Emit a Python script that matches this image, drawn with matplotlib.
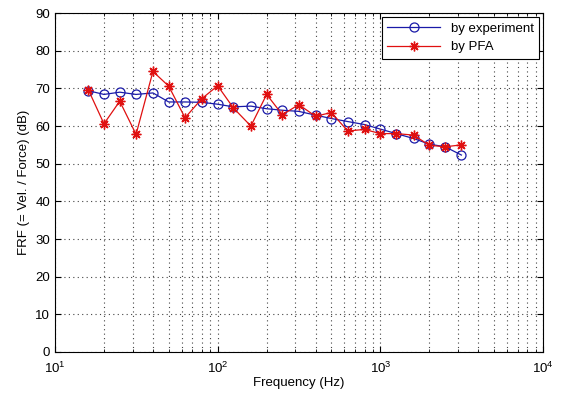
import matplotlib
matplotlib.use('Agg')
import matplotlib.pyplot as plt
from matplotlib.ticker import LogLocator, MultipleLocator

plt.rcParams['font.family'] = ['Liberation Sans', 'DejaVu Sans']

# 1/3 octave centre frequencies (Hz)
freq = [16, 20, 25, 31.5, 40, 50, 63, 80, 100, 125, 160, 200, 250, 315,
        400, 500, 630, 800, 1000, 1250, 1600, 2000, 2500, 3150]

# FRF levels (dB)
frf_experiment = [69.4, 68.4, 69.0, 68.4, 68.8, 66.4, 66.4, 66.3, 65.8, 65.1,
                  65.3, 64.6, 64.2, 63.9, 62.9, 62.0, 61.2, 60.4, 59.2, 58.0,
                  56.7, 55.2, 54.5, 52.3]
frf_pfa = [69.7, 60.6, 66.6, 57.8, 74.5, 70.6, 62.2, 67.3, 70.7, 64.8,
           60.0, 68.4, 63.0, 65.7, 62.6, 63.6, 58.7, 59.1, 58.0, 58.0,
           57.6, 54.9, 54.5, 55.0]

fig = plt.figure(figsize=(5.63, 3.97), dpi=100)
ax = fig.add_axes([0.0977, 0.1134, 0.8668, 0.8536])

ax.semilogx(freq, frf_experiment, color='#1a1aa8', marker='o', markersize=6.5,
            markerfacecolor='none', markeredgewidth=0.9, linewidth=0.9,
            label='by experiment')
# MATLAB-style asterisk marker
ax.semilogx(freq, frf_pfa, color='#e01010', marker=(8, 2, 0), markersize=7,
            markeredgewidth=1.0, linewidth=0.9, label='by PFA')

ax.set_xlim(10, 1e4)
ax.set_ylim(0, 90)
ax.yaxis.set_major_locator(MultipleLocator(10))
ax.xaxis.set_major_locator(LogLocator(base=10))
ax.xaxis.set_minor_locator(LogLocator(base=10, subs=range(2, 10)))

grid_style = dict(color='#444444', linestyle=(0, (1, 3)), linewidth=0.8)
ax.grid(True, which='both', axis='x', **grid_style)
ax.grid(True, which='major', axis='y', **grid_style)

ax.tick_params(which='both', direction='in', top=True, right=True, labelsize=9.5)
ax.tick_params(which='major', length=4)
ax.tick_params(which='minor', length=2)
ax.tick_params(axis='x', pad=6)

ax.set_xlabel('Frequency (Hz)', fontsize=9.5, labelpad=1)
ax.set_ylabel('FRF (= Vel. / Force) (dB)', fontsize=9.5)

leg = ax.legend(loc='upper right', fontsize=9.5, fancybox=False, framealpha=1,
                edgecolor='black', borderaxespad=0.3, handlelength=4)
leg.get_frame().set_linewidth(0.8)

fig.savefig('out.png', dpi=100)
